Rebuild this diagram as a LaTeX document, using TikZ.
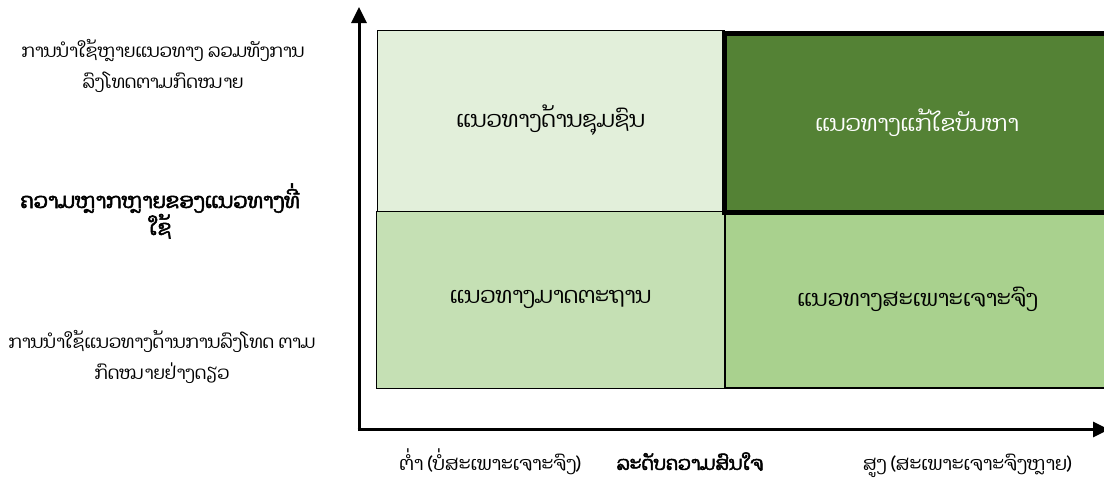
\documentclass[tikz,border=0pt]{standalone}
\usepackage{fontspec}
\newfontfamily\laofont[Script=Lao]{Dhyana}
\newfontfamily\laobold[Script=Lao,FakeBold=2.5]{Dhyana}
\usetikzlibrary{arrows.meta}
\definecolor{cUL}{HTML}{E2EFDA}
\definecolor{cUR}{HTML}{548235}
\definecolor{cLL}{HTML}{C5E0B4}
\definecolor{cLR}{HTML}{A9D18E}
\tikzset{
  cell/.style={draw=black, line width=1pt, inner sep=0pt, font=\laofont\fontsize{22.5}{26}\selectfont},
  side/.style={align=center, font=\laofont\fontsize{18}{31}\selectfont},
  bottomlab/.style={anchor=base, inner sep=1pt, text height=14pt, text depth=3pt, font=\laofont\fontsize{19}{24}\selectfont},
  sidebold/.style={align=center, font=\laobold\fontsize{21}{27}\selectfont},
  bottombold/.style={anchor=base, inner sep=1pt, text height=14pt, text depth=3pt, font=\laobold\fontsize{19}{24}\selectfont},
  axis/.style={line width=3pt, -{Triangle[length=16pt,width=15pt]}}
}
\begin{document}
\begin{tikzpicture}[x=1pt,y=-1pt]
\clip (0,0) rectangle (1104,477);
\fill[white] (0,0) rectangle (1104,477);
% cells
\node[cell, fill=cLL, minimum width=348pt, minimum height=177pt] (ll) at (550.5,299.5) {ແນວທາງມາດຕະຖານ};
\node[cell, fill=cLR, line width=2.5pt, minimum width=385pt, minimum height=177pt] (lr) at (917.5,299.5) {ແນວທາງສະເພາະເຈາະຈົງ};
\node[cell, fill=cUL, minimum width=347pt, minimum height=181pt] (ul) at (550.5,120.5) {ແນວທາງດ້ານຊຸມຊົນ};
\node[cell, fill=cUR, line width=5pt, text=white, minimum width=386pt, minimum height=179pt] (ur) at (917,122.5) {ແນວທາງແກ້ໄຂບັນຫາ};
% axes
\coordinate (o) at (359,429.5);
\coordinate (ytop) at (359,7);
\coordinate (xend) at (1109,429.5);
\draw[axis] ([yshift=-1.5pt]o) -- (ytop);
\draw[axis] ([xshift=-1.5pt]o) -- (xend);
% side labels
\node[side] (hi) at (163,66) {ການນຳໃຊ້ຫຼາຍແນວທາງ ລວມທັງການ\\ລົງໂທດຕາມກົດໝາຍ};
\node[sidebold] (yl) at (160,211) {ຄວາມຫຼາກຫຼາຍຂອງແນວທາງທີ່\\ໃຊ້};
\node[side] (lo) at (162,357) {ການນຳໃຊ້ແນວທາງດ້ານການລົງໂທດ ຕາມ\\ກົດໝາຍຢ່າງດຽວ};
% bottom labels
\node[bottomlab] (xlo) at (490,470) {ຕ່ຳ (ບໍ່ສະເພາະເຈາະຈົງ)};
\node[bottombold] (xl) at (690,470) {ລະດັບຄວາມສົນໃຈ};
\node[bottomlab] (xhi) at (967,470) {ສູງ (ສະເພາະເຈາະຈົງຫຼາຍ)};
\end{tikzpicture}
\end{document}
